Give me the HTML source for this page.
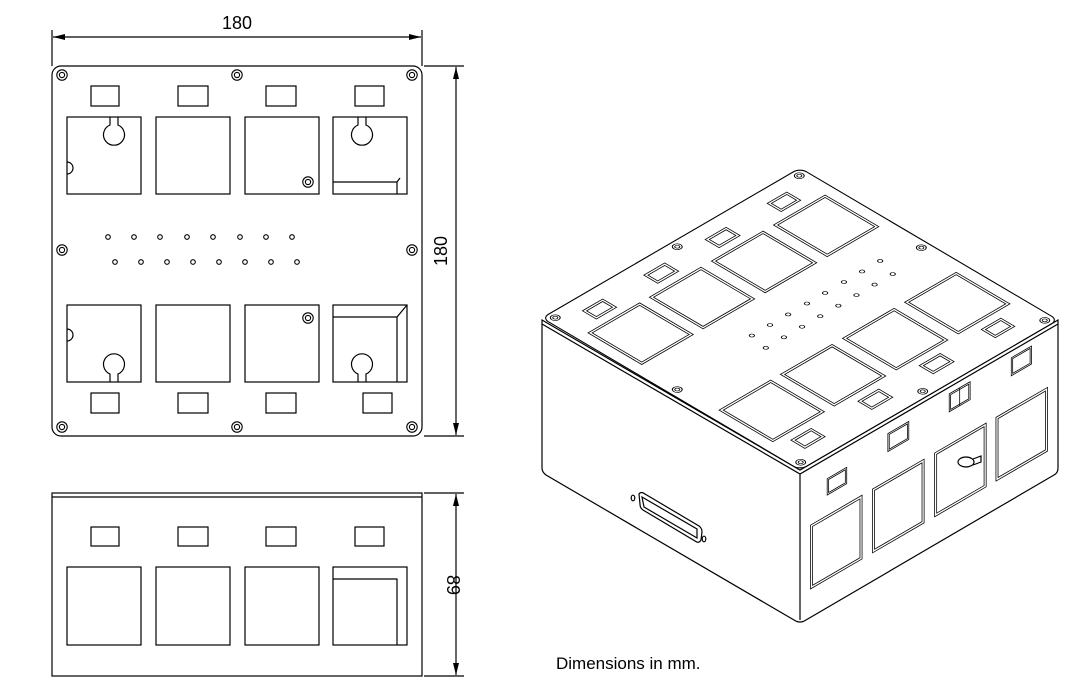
<!DOCTYPE html>
<html><head><meta charset="utf-8"><style>
html,body{margin:0;padding:0;background:#fff;width:1074px;height:684px;overflow:hidden}
svg{display:block}
text{font-family:"Liberation Sans",sans-serif;fill:#000}
.s{fill:none;stroke:#000;stroke-width:1.2}
.t{fill:none;stroke:#000;stroke-width:1.1;vector-effect:non-scaling-stroke}
.w{fill:#fff;stroke:#000;stroke-width:1.1;vector-effect:non-scaling-stroke}
</style></head><body>
<svg width="1074" height="684" viewBox="0 0 1074 684">
<defs>
<marker id="ar" viewBox="0 0 12 6" refX="12" refY="3" markerWidth="12" markerHeight="6" orient="auto-start-reverse" markerUnits="userSpaceOnUse"><path d="M0,0 L12,3 L0,6z" fill="#000"/></marker>
<g id="scr"><circle r="5.2" class="t"/><circle r="2.6" class="t"/></g>
</defs>

<!-- TOP VIEW -->
<g class="s">
<line x1="52" y1="30" x2="52" y2="66"/><line x1="422" y1="30" x2="422" y2="66"/>
<line x1="53" y1="37" x2="421" y2="37" marker-start="url(#ar)" marker-end="url(#ar)"/>
<line x1="424" y1="66" x2="464" y2="66"/><line x1="424" y1="436" x2="464" y2="436"/>
<line x1="456" y1="67" x2="456" y2="435" marker-start="url(#ar)" marker-end="url(#ar)"/>
<rect x="52" y="66" width="370" height="370" rx="9"/>
<rect x="91" y="86" width="28" height="20"/><rect x="178" y="86" width="30" height="20"/><rect x="266" y="86" width="30" height="20"/><rect x="355" y="86" width="29" height="20"/>
<rect x="91" y="393" width="28" height="20"/><rect x="178" y="393" width="30" height="20"/><rect x="266" y="393" width="30" height="20"/><rect x="363" y="393" width="29" height="20"/>
<rect x="67" y="117" width="74" height="77"/><rect x="156" y="117" width="74" height="77"/><rect x="245" y="117" width="74" height="77"/><rect x="333" y="117" width="74" height="77"/>
<rect x="67" y="305" width="74" height="77"/><rect x="156" y="305" width="74" height="77"/><rect x="245" y="305" width="74" height="77"/><rect x="333" y="305" width="74" height="77"/>
<path d="M110,117 L110,125 A10.5,10.5 0 1 0 118,125 L118,117"/>
<path d="M358,117 L358,125 A10.5,10.5 0 1 0 366,125 L366,117"/>
<path d="M110,382 L110,374 A10.5,10.5 0 1 1 118,374 L118,382"/>
<path d="M358,382 L358,374 A10.5,10.5 0 1 1 366,374 L366,382"/>
<path d="M67,162 A5,5 0 0 1 67,174"/><path d="M67,329 A5,5 0 0 1 67,341"/>
<path d="M333,182 L397,182 L397,194 M397,182 L400,178"/>
<path d="M333,317 L397,317 L407,305 M397,317 L397,382"/>
</g>
<g>
<use href="#scr" x="62" y="75"/><use href="#scr" x="237" y="75"/><use href="#scr" x="412" y="75"/>
<use href="#scr" x="62" y="250"/><use href="#scr" x="412" y="250"/>
<use href="#scr" x="62" y="427"/><use href="#scr" x="237" y="427"/><use href="#scr" x="412" y="427"/>
<use href="#scr" x="308" y="182"/><use href="#scr" x="308" y="318"/>
</g>
<g class="t">
<circle cx="108" cy="237" r="2.3"/><circle cx="134" cy="237" r="2.3"/><circle cx="160" cy="237" r="2.3"/><circle cx="187" cy="237" r="2.3"/><circle cx="213" cy="237" r="2.3"/><circle cx="240" cy="237" r="2.3"/><circle cx="266" cy="237" r="2.3"/><circle cx="292" cy="237" r="2.3"/>
<circle cx="115" cy="262" r="2.3"/><circle cx="141" cy="262" r="2.3"/><circle cx="167" cy="262" r="2.3"/><circle cx="193" cy="262" r="2.3"/><circle cx="219" cy="262" r="2.3"/><circle cx="245" cy="262" r="2.3"/><circle cx="271" cy="262" r="2.3"/><circle cx="297" cy="262" r="2.3"/>
</g>
<text x="237" y="29" font-size="18" text-anchor="middle">180</text>
<text transform="translate(447,251) rotate(-90)" font-size="18" text-anchor="middle">180</text>

<!-- SIDE VIEW -->
<g class="s">
<rect x="52" y="493" width="370" height="183"/>
<line x1="52" y1="497" x2="422" y2="497"/>
<line x1="424" y1="493" x2="464" y2="493"/><line x1="424" y1="676" x2="464" y2="676"/>
<line x1="456" y1="494" x2="456" y2="675" marker-start="url(#ar)" marker-end="url(#ar)"/>
<rect x="91" y="527" width="28" height="19"/><rect x="178" y="527" width="30" height="19"/><rect x="266" y="527" width="30" height="19"/><rect x="355" y="527" width="29" height="19"/>
<rect x="67" y="567" width="74" height="78"/><rect x="156" y="567" width="74" height="78"/><rect x="245" y="567" width="74" height="78"/><rect x="333" y="567" width="74" height="78"/>
<path d="M333,579 L397,579 L397,645"/>
</g>
<text transform="translate(447,585) rotate(90)" font-size="18" text-anchor="middle">89</text>

<!-- ISO VIEW -->
<g class="s">
<path d="M542,320 L800,470 L1058,320 L1058,468 Q1058,473 1054,475 L806,620 Q800,624 794,620 L546,475 Q542,472 542,468 Z" fill="#fff"/>
<path d="M542,324 L800,474 L1058,324"/>
<line x1="800" y1="474" x2="800" y2="620"/>
<path d="M639,494 Q641,491 645,494 L699,526 Q702,528 702,532 L701,540 Q699,544 695,541 L643,510 Q640,508 640,504 Z"/>
<path d="M642,497 L697,529 L697,538 L644,507 Z"/>
<ellipse cx="633" cy="498" rx="1.8" ry="2.8"/><ellipse cx="704" cy="539" rx="1.8" ry="2.8"/>
</g>
<!-- top face mapped -->
<g transform="matrix(-0.6973 0.4054 0.6973 0.4108 790.24 119.81)">
<rect x="52" y="66" width="370" height="370" rx="9" class="w"/>
<g class="t">
<rect x="91" y="86" width="28" height="20"/><rect x="178" y="86" width="30" height="20"/><rect x="266" y="86" width="30" height="20"/><rect x="355" y="86" width="29" height="20"/>
<rect x="94" y="89" width="22" height="14"/><rect x="181" y="89" width="24" height="14"/><rect x="269" y="89" width="24" height="14"/><rect x="358" y="89" width="23" height="14"/>
<rect x="91" y="393" width="28" height="20"/><rect x="178" y="393" width="30" height="20"/><rect x="266" y="393" width="30" height="20"/><rect x="363" y="393" width="29" height="20"/>
<rect x="94" y="396" width="22" height="14"/><rect x="181" y="396" width="24" height="14"/><rect x="269" y="396" width="24" height="14"/><rect x="366" y="396" width="23" height="14"/>
<rect x="67" y="117" width="74" height="77"/><rect x="156" y="117" width="74" height="77"/><rect x="245" y="117" width="74" height="77"/><rect x="333" y="117" width="74" height="77"/>
<rect x="70" y="120" width="68" height="71"/><rect x="159" y="120" width="68" height="71"/><rect x="248" y="120" width="68" height="71"/><rect x="336" y="120" width="68" height="71"/>
<rect x="67" y="305" width="74" height="77"/><rect x="156" y="305" width="74" height="77"/><rect x="245" y="305" width="74" height="77"/><rect x="333" y="305" width="74" height="77"/>
<rect x="70" y="308" width="68" height="71"/><rect x="159" y="308" width="68" height="71"/><rect x="248" y="308" width="68" height="71"/><rect x="336" y="308" width="68" height="71"/>
<circle cx="108" cy="237" r="2.6"/><circle cx="134" cy="237" r="2.6"/><circle cx="160" cy="237" r="2.6"/><circle cx="187" cy="237" r="2.6"/><circle cx="213" cy="237" r="2.6"/><circle cx="240" cy="237" r="2.6"/><circle cx="266" cy="237" r="2.6"/><circle cx="292" cy="237" r="2.6"/>
<circle cx="115" cy="262" r="2.6"/><circle cx="141" cy="262" r="2.6"/><circle cx="167" cy="262" r="2.6"/><circle cx="193" cy="262" r="2.6"/><circle cx="219" cy="262" r="2.6"/><circle cx="245" cy="262" r="2.6"/><circle cx="271" cy="262" r="2.6"/><circle cx="297" cy="262" r="2.6"/>
<circle cx="62" cy="75" r="5"/><circle cx="237" cy="75" r="5"/><circle cx="412" cy="75" r="5"/><circle cx="62" cy="250" r="5"/><circle cx="412" cy="250" r="5"/><circle cx="62" cy="427" r="5"/><circle cx="237" cy="427" r="5"/><circle cx="412" cy="427" r="5"/>
<circle cx="62" cy="75" r="2.5"/><circle cx="237" cy="75" r="2.5"/><circle cx="412" cy="75" r="2.5"/><circle cx="62" cy="250" r="2.5"/><circle cx="412" cy="250" r="2.5"/><circle cx="62" cy="427" r="2.5"/><circle cx="237" cy="427" r="2.5"/><circle cx="412" cy="427" r="2.5"/>
</g>
</g>
<!-- right face mapped -->
<g transform="matrix(0.6973 -0.4054 0 0.8172 763.74 89.02)">
<g class="t">
<rect x="91" y="522" width="28" height="20"/><rect x="178" y="510" width="30" height="22"/><rect x="266" y="505" width="30" height="22"/><rect x="355" y="505" width="29" height="22"/>
<rect x="93" y="524" width="24" height="16"/><rect x="180" y="512" width="26" height="18"/><rect x="268" y="507" width="26" height="18"/><rect x="357" y="507" width="25" height="18"/>
<line x1="281" y1="505" x2="281" y2="527"/>
<rect x="67" y="567" width="74" height="78"/><rect x="156" y="567" width="74" height="78"/><rect x="245" y="567" width="74" height="78"/><rect x="333" y="567" width="74" height="78"/>
<rect x="70" y="570" width="68" height="72"/><rect x="159" y="570" width="68" height="72"/><rect x="248" y="570" width="68" height="72"/><rect x="336" y="570" width="68" height="72"/>
</g>
</g>
<g class="s">
<ellipse cx="966" cy="462" rx="8" ry="5"/>
<path d="M973,459 L981,456 L981,462 L973,465"/>
</g>
<text x="556" y="669" font-size="17">Dimensions in mm.</text>
</svg>
</body></html>
